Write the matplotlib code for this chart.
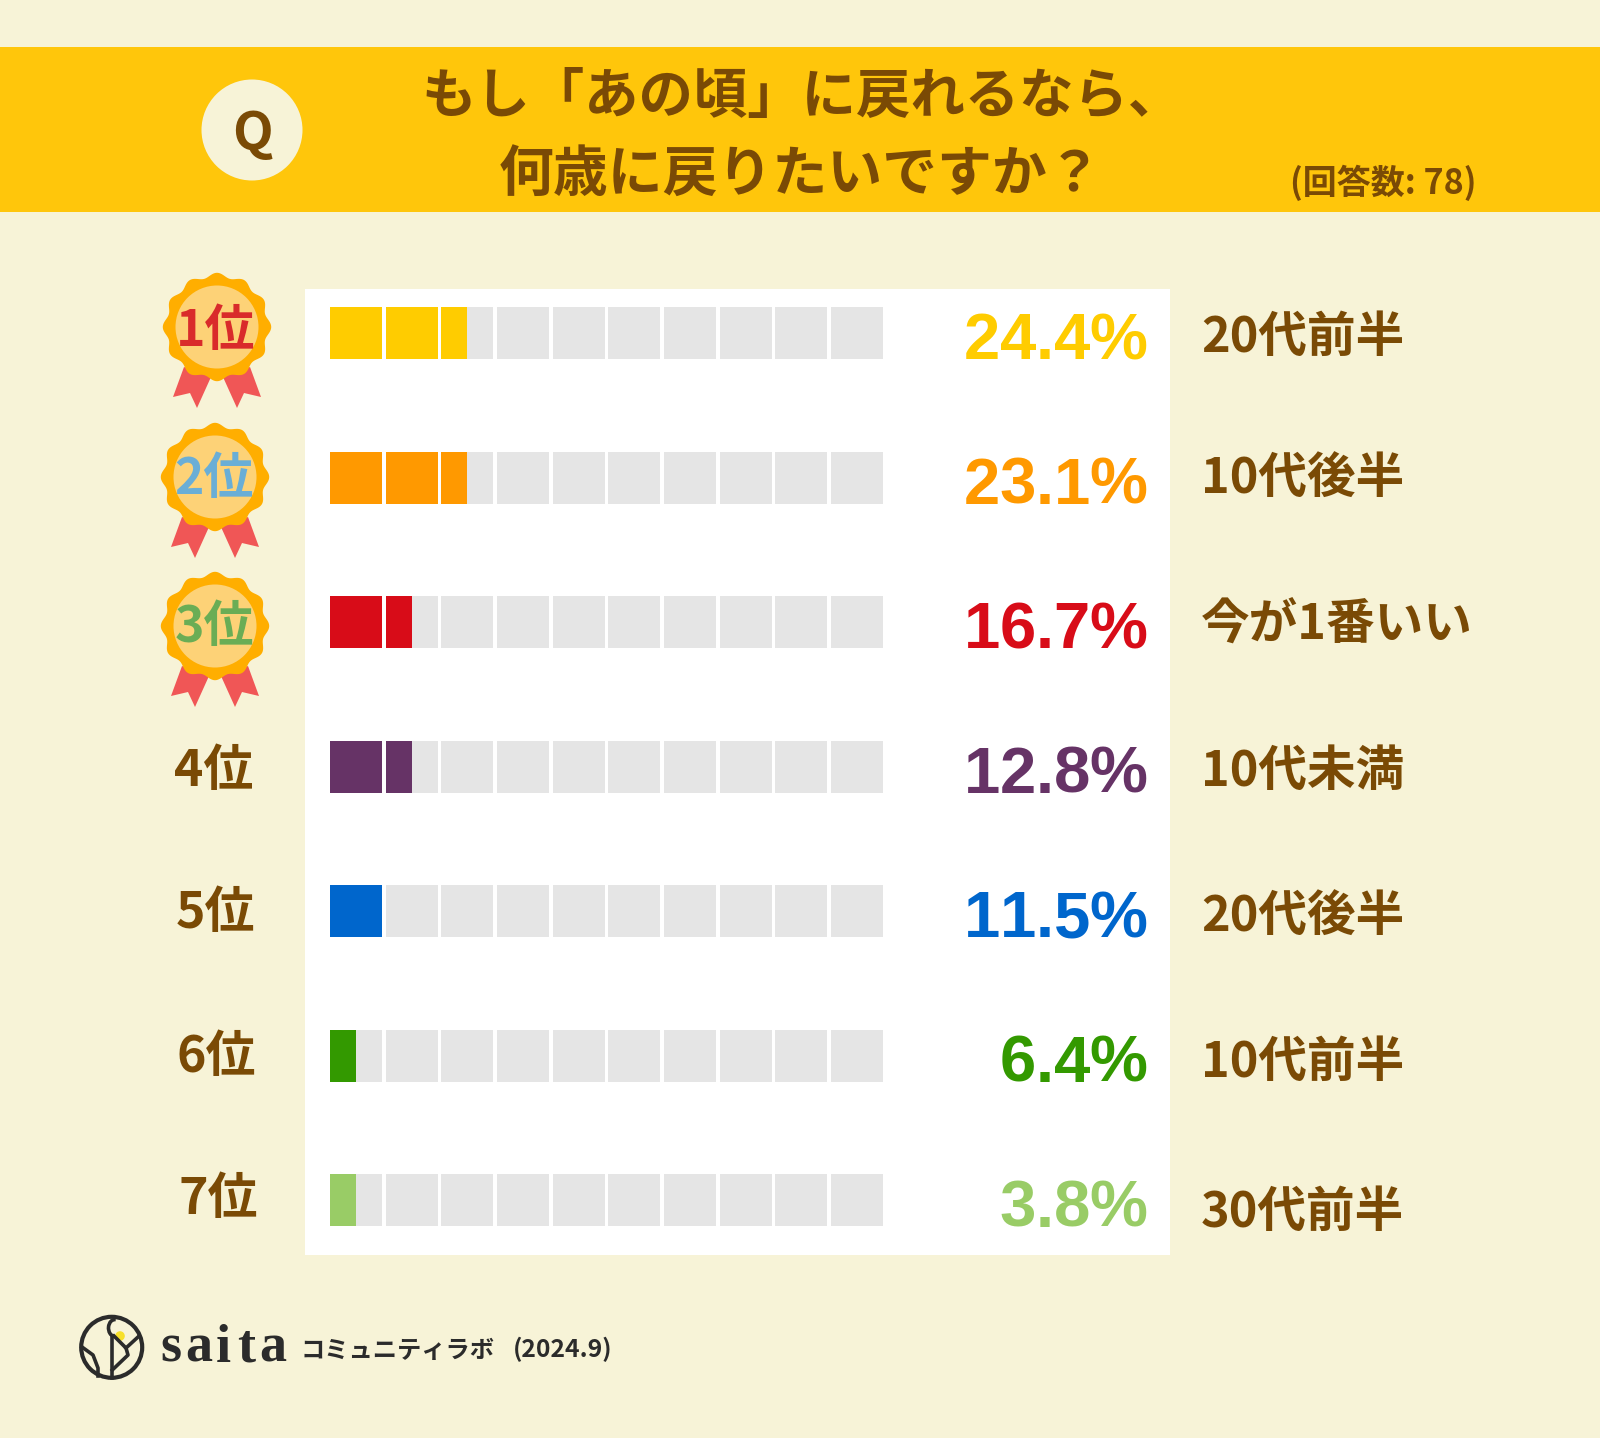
import matplotlib
matplotlib.use('Agg')
import matplotlib.pyplot as plt
import numpy as np
from matplotlib.patches import Circle, Polygon, Rectangle, Arc

plt.rcParams['font.family'] = ['Noto Sans CJK JP', 'DejaVu Sans']

ranks = ['1位', '2位', '3位', '4位', '5位', '6位', '7位']
answers = ['20代前半', '10代後半', '今が1番いい', '10代未満', '20代後半', '10代前半', '30代前半']
percents = [24.4, 23.1, 16.7, 12.8, 11.5, 6.4, 3.8]
cells_filled = [2.5, 2.5, 1.5, 1.5, 1.0, 0.5, 0.5]
bar_colors = ['#FFCC00', '#FF9900', '#D80C18', '#663366', '#0066CC', '#339900', '#99CC66']
rank_colors = ['#D92B2B', '#6AAED6', '#6AAD55', '#7A4A05', '#7A4A05', '#7A4A05', '#7A4A05']
rank_x = [216, 214, 214, 214, 215, 216, 218]
rank_y = [332, 480, 628, 771, 914, 1057, 1200]
answer_y = [337, 479, 625, 771, 917, 1062, 1212]
medal_x = [217, 215, 215]
medal_y = [327, 477, 626]

BG = '#F7F3D7'
BROWN = '#7A4A05'
DARK = '#2B2B2B'
W, H = 1600, 1438

fig = plt.figure(figsize=(W / 100, H / 100), dpi=100, facecolor=BG)
ax = fig.add_axes([0, 0, 1, 1])
ax.set_xlim(0, W)
ax.set_ylim(H, 0)
ax.axis('off')

# header
ax.add_patch(Rectangle((0, 47), W, 165, fc='#FFC60B', ec='none'))
ax.add_patch(Circle((252, 130), 50.5, fc=BG, ec='none'))
ax.text(252, 134, 'Q', fontsize=38, fontweight='bold', color=BROWN, ha='center', va='center')
ax.text(802, 98, 'もし「あの頃」に戻れるなら、', fontsize=39.2, fontweight='bold', color=BROWN,
        ha='center', va='center')
ax.text(800, 175, '何歳に戻りたいですか？', fontsize=39.5, fontweight='bold', color=BROWN,
        ha='center', va='center')
ax.text(1476, 183, '(回答数: 78)', fontsize=24.5, fontweight='bold', color=BROWN, ha='right', va='center')

# white panel
ax.add_patch(Rectangle((305, 289), 865, 966, fc='white', ec='none'))

# medals
th = np.linspace(0, 2 * np.pi, 720)
for mx, my in zip(medal_x, medal_y):
    for side in (-1, 1):
        pts = np.array([[-33, 40], [-6, 50], [-20, 81], [-27, 66], [-44, 70]])
        pts[:, 0] *= -side
        ax.add_patch(Polygon(pts + [mx, my], fc='#F05656', ec='none'))
    r = 52 + 2.2 * np.cos(12 * (th + np.pi / 2))
    ax.fill(mx + r * np.cos(th), my + r * np.sin(th), fc='#FFAE00', ec='none')
    ax.add_patch(Circle((mx, my), 41.5, fc='#FDD277', ec='none'))

# rank labels
for i in range(len(ranks)):
    ax.text(rank_x[i], rank_y[i], ranks[i], fontsize=36, fontweight='bold', color=rank_colors[i],
            ha='center', va='center')

# right side texts
for i in range(len(answers)):
    ax.text(1201, answer_y[i], answers[i], fontsize=35, fontweight='bold', color=BROWN, ha='left', va='center')
    # percent glyphs one by one, the original has no kerning
    x = 1147
    for ch in reversed('%.1f%%' % percents[i]):
        adv = {'%': 0.889, '.': 0.278}.get(ch, 0.556) * 64.5
        x -= adv
        ax.text(x + adv / 2, 359 + i * 144.6, ch, fontsize=47, fontweight='bold', color=bar_colors[i],
                family='Liberation Sans', ha='center', va='baseline')

# segmented bars, x axis in cells
cell_w = 52 / 55.67
bx = fig.add_axes([330 / W, 1 - 1226 / H, (55.67 * 9 + 52) / W, (1226 - 307) / H])
bx.axis('off')
bx.set_xlim(0, 9 + cell_w)
bar_h = 52 / 144.5
bx.set_ylim(6 + bar_h / 2, -bar_h / 2)
bx.patch.set_alpha(0)
for row in range(len(percents)):
    for cell in range(10):
        bx.barh(row, cell_w, left=cell, height=bar_h, color='#E5E5E5', linewidth=0)
        fill = min(cells_filled[row] - cell, 1)
        if fill > 0:
            bx.barh(row, cell_w if fill == 1 else fill * cell_w, left=cell, height=bar_h,
                    color=bar_colors[row], linewidth=0)

# logo
ax.add_patch(Circle((111.7, 1347.3), 30.5, fc='none', ec=DARK, lw=3))
ax.add_patch(Circle((120, 1336), 4.8, fc='#F7E02A', ec='none'))
ax.plot([112.3, 112.3], [1378, 1336], color=DARK, lw=2.6)
ax.add_patch(Arc((115, 1328), 13, 17, theta1=95, theta2=275, ec=DARK, lw=2.6))
ax.plot([114, 126, 128, 112.3], [1336, 1348, 1355, 1370], color=DARK, lw=2.6)
ax.plot([126, 138], [1348, 1337], color=DARK, lw=2.6)
ax.plot([82, 93, 98, 98], [1347, 1355, 1368, 1376], color=DARK, lw=2.6)
for ch, x in zip('saita', [160, 185, 216, 237, 259]):
    ax.text(x, 1362, ch, fontsize=39, fontweight='bold', color=DARK, family='Liberation Serif',
            ha='left', va='baseline')
ax.text(301, 1351, 'コミュニティラボ', fontsize=17.5, fontweight='bold', color=DARK, ha='left', va='center')
ax.text(513, 1349, '(2024.9)', fontsize=17.8, fontweight='bold', color=DARK, ha='left', va='center')

fig.savefig('out.png', dpi=100, facecolor=BG)
